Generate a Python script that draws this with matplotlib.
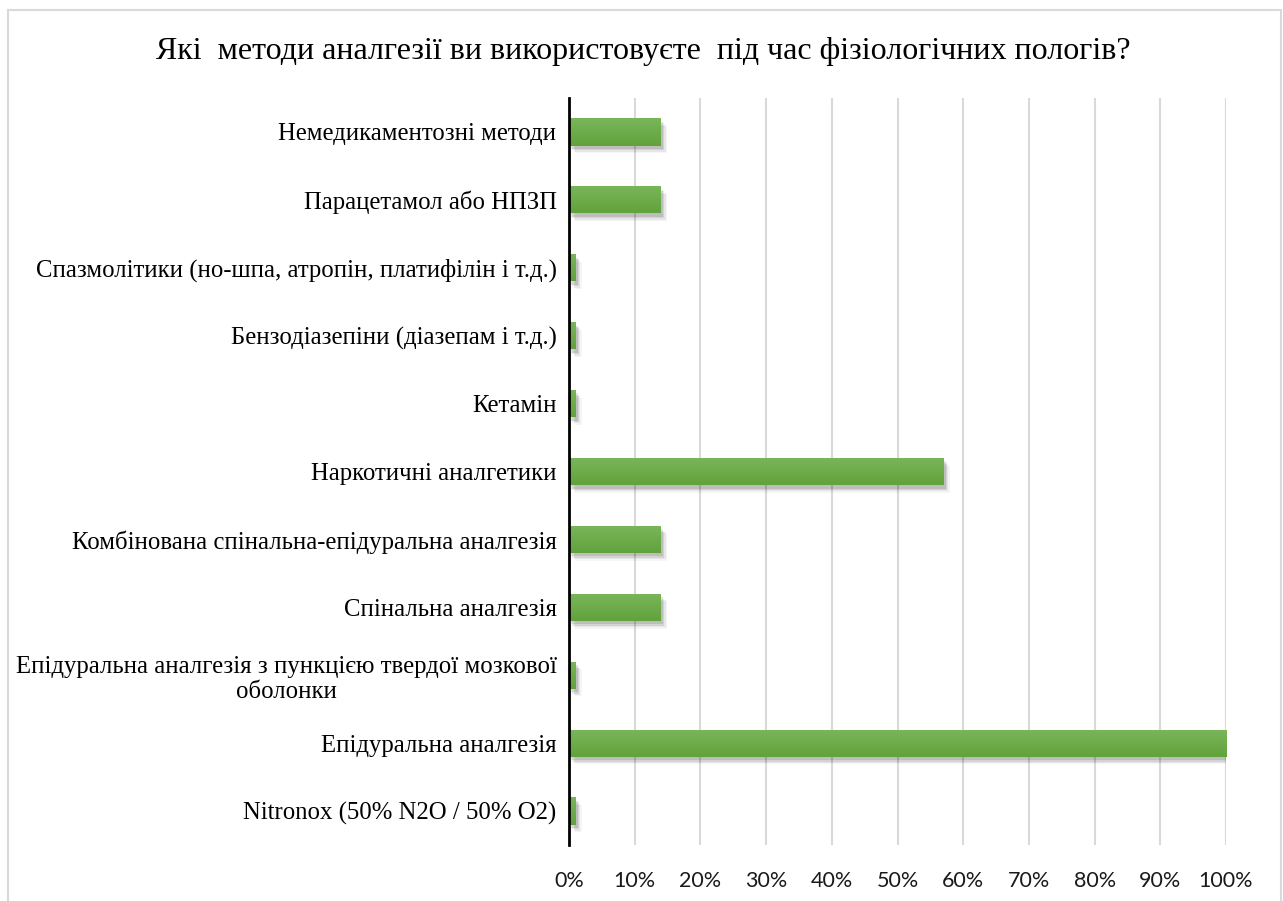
import numpy as np
import matplotlib.pyplot as plt
import matplotlib.patheffects as pe
from matplotlib.patches import Rectangle
from matplotlib.colors import LinearSegmentedColormap
from matplotlib.ticker import PercentFormatter

# categories listed bottom to top
methods = [
    'Nitronox (50% N2O / 50% O2)',
    'Епідуральна аналгезія',
    'Епідуральна аналгезія з пункцією твердої мозкової\nоболонки',
    'Спінальна аналгезія',
    'Комбінована спінальна-епідуральна аналгезія',
    'Наркотичні аналгетики',
    'Кетамін',
    'Бензодіазепіни (діазепам і т.д.)',
    'Спазмолітики (но-шпа, атропін, платифілін і т.д.)',
    'Парацетамол або НПЗП',
    'Немедикаментозні методи',
]
share = [0.01, 1.00, 0.01, 0.14, 0.14, 0.57, 0.01, 0.01, 0.01, 0.14, 0.14]
xticks = np.arange(0, 1.01, 0.1)

title = 'Які  методи аналгезії ви використовуєте  під час фізіологічних пологів?'

fig = plt.figure(figsize=(12.83, 9.01), dpi=100)
fig.patches.append(Rectangle((8/1283, -0.05), (1281-8)/1283, 1.05 - 10/901,
                             transform=fig.transFigure, fill=False,
                             edgecolor='#d9d9d9', linewidth=1.5))

ax = fig.add_axes([569/1283, 1 - 845/901, (1226-569)/1283, (845-98)/901])
y = np.arange(len(methods))
h = 0.4
bars = ax.barh(y, share, height=h, color='#6cad48', zorder=3)

# soft drop shadow built from a few stacked offsets
shadow = [pe.SimplePatchShadow(offset=(o, -o - 1), alpha=a, shadow_rgbFace='#000000')
          for o, a in [(4.5, 0.04), (3.5, 0.06), (2.5, 0.08), (1.5, 0.10)]]
green = LinearSegmentedColormap.from_list('green', ['#62a23c', '#7ab65a'])
grad = np.linspace(0, 1, 64).reshape(-1, 1)
for b, yi, w in zip(bars, y, share):
    b.set_path_effects(shadow + [pe.Normal()])
    im = ax.imshow(grad, cmap=green, aspect='auto', origin='lower',
                   extent=[0, w, yi - h / 2, yi + h / 2], zorder=3.5)
    im.set_clip_path(b)

ax.set_xlim(0, 1)
ax.set_ylim(-0.5, len(methods) - 0.5)
ax.set_xticks(xticks)
ax.xaxis.set_major_formatter(PercentFormatter(1.0, decimals=0))
ax.grid(axis='x', color='#d9d9d9', linewidth=1.5, zorder=0)
ax.set_yticks(y)
ax.set_yticklabels(methods, family='Liberation Serif', fontsize=17.8,
                   multialignment='center', linespacing=1.2)
ax.tick_params(length=0)
ax.tick_params(axis='y', pad=9)
ax.tick_params(axis='x', pad=19)
for t in ax.get_xticklabels():
    t.set_family('Lato')
    t.set_fontsize(15.5)
    t.set_color('#1a1a1a')

for s in ['top', 'right', 'bottom']:
    ax.spines[s].set_visible(False)
ax.spines['left'].set_linewidth(2)
ax.spines['left'].set_zorder(4)

fig.text(0.5 * (157 + 1130) / 1283, 1 - 52/901, title, family='Liberation Serif',
         fontsize=23, ha='center', va='center')

fig.savefig('out.png', dpi=100, facecolor='white')
